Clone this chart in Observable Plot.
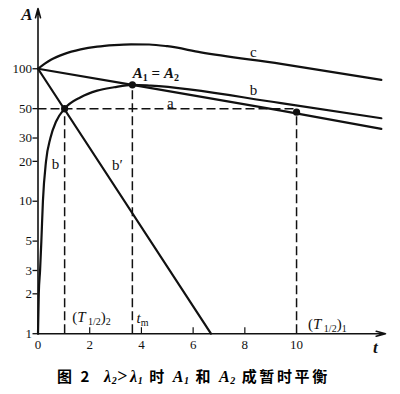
<!DOCTYPE html>
<html>
<head>
<meta charset="utf-8">
<script src="https://cdn.jsdelivr.net/npm/d3@7"></script>
<script src="https://cdn.jsdelivr.net/npm/@observablehq/plot@0.6"></script>
<style>
  html, body { margin: 0; padding: 0; background: #fff; }
  #chart svg { display: block; }
  #chart svg text { font-family: "Liberation Serif", serif; }
  #caption {
    height: 32px; line-height: 28px; margin: 0; padding-left: 57px;
    font-family: "Noto Sans CJK SC", sans-serif; font-weight: 700; font-size: 15px; color: #000;
    white-space: nowrap; letter-spacing: 2.6px;
  }
  #caption .m { font-family: "Liberation Serif", serif; font-style: italic; font-weight: 700; font-size: 16px; letter-spacing: 0.5px; }
  #caption sub { font-size: 10px; vertical-align: -2px; }
</style>
</head>
<body>
<div id="chart"></div>
<div id="caption">图 2 &nbsp;<span class="m">λ<sub>2</sub></span><span style="font-family:'Liberation Serif';font-size:18px">&gt;</span><span class="m">λ<sub>1</sub></span> 时 <span class="m">A<sub>1</sub></span> 和 <span class="m">A<sub>2</sub></span> 成暂时平衡</div>
<script>
// ---- data ----
// parent activity a (straight on log scale)
const aT = [0, 3.65, 9.4, 13.28];
const aV = [100, 75.6, 48.3, 35.2];
// daughter activity b
const bT = [0.0, 0.03, 0.08, 0.13, 0.19, 0.31, 0.48, 0.70, 1.03, 1.65, 2.29, 2.94, 3.65, 4.36, 9.4, 13.28];
const bV = [1, 2, 3, 5, 10, 20, 30, 40, 50, 61, 68.4, 72.5, 75.6, 74.6, 55, 42.3];
// daughter alone b'
const bpT = [0, 6.69];
const bpV = [100, 1];
// total c = a + b
const cT = [0, 0.25, 0.5, 1.0, 1.65, 2.29, 2.94, 3.6, 4.3, 5.0, 6.3, 9.4, 13.28];
const cV = [100, 109, 117, 129, 140, 147, 151, 153, 152.5, 148, 133, 109, 82.5];
// marked points: (T1/2)2, tm (A1 = A2), (T1/2)1
const markT = [1.03, 3.65, 10];
const markV = [50, 75.6, 47];
// ticks
const xTicks = [0, 2, 4, 6, 8, 10];
const yTicks = [1, 2, 3, 5, 10, 20, 30, 50, 100];

const toRows = (T, V) => T.map((t, i) => ({t, v: V[i]}));
const A = toRows(aT, aV), B = toRows(bT, bV), BP = toRows(bpT, bpV), C = toRows(cT, cV);
const M = toRows(markT, markV);

const ink = "#111";
const dash = "9,4";
const serif = "Liberation Serif";
const plot = Plot.plot({
  width: 400, height: 362,
  marginLeft: 37.5, marginRight: 15, marginTop: 8, marginBottom: 28.8,
  x: {domain: [0, 13.44]},
  y: {type: "log", domain: [1, 285]},
  style: {fontFamily: serif, fontSize: "13px", background: "white", color: ink},
  marks: [
    Plot.axisY({ticks: yTicks, tickSize: 5, tickPadding: 1, tickFormat: d => String(d), label: null, fontSize: 13, stroke: ink, strokeWidth: 1.3}),
    Plot.axisX({ticks: xTicks, tickSize: 0, tickPadding: 6, tickFormat: d => String(d), label: null, fontSize: 13}),
    Plot.ruleX(xTicks.filter(d => d > 0 && d < 10), {y1: 1, y2: 1.11, stroke: ink, strokeWidth: 1.2}),
    // dashed guides
    Plot.ruleY([50], {x1: 0, x2: 10, stroke: ink, strokeWidth: 1.5, strokeDasharray: dash}),
    Plot.ruleX(M, {x: "t", y1: 1, y2: "v", stroke: ink, strokeWidth: 1.5, strokeDasharray: dash}),
    // axes with arrows
    Plot.arrow([0], {x1: 0, y1: 1, x2: 0, y2: 285, stroke: ink, strokeWidth: 1.6, headLength: 9, headAngle: 30}),
    Plot.arrow([0], {x1: 0, y1: 1, x2: 13.44, y2: 1, stroke: ink, strokeWidth: 1.6, headLength: 9, headAngle: 30}),
    // curves
    Plot.line(C, {x: "t", y: "v", curve: "monotone-x", stroke: ink, strokeWidth: 2.2}),
    Plot.line(A, {x: "t", y: "v", stroke: ink, strokeWidth: 2.2}),
    Plot.line(B, {x: "t", y: "v", curve: "monotone-x", stroke: ink, strokeWidth: 2.2}),
    Plot.line(BP, {x: "t", y: "v", stroke: ink, strokeWidth: 2.2}),
    Plot.dot(M, {x: "t", y: "v", r: 3.6, fill: ink, stroke: "none"}),
    // labels
    Plot.text(["c"], {x: 8.33, y: 133, fontSize: 15, fill: ink}),
    Plot.text(["b"], {x: 8.33, y: 68.5, fontSize: 15, fill: ink}),
    Plot.text(["a"], {x: 5.12, y: 54.6, fontSize: 15, fill: ink}),
    Plot.text(["b"], {x: 0.68, y: 19.2, fontSize: 15, fill: ink}),
    Plot.text(["b\u2032"], {x: 3.07, y: 18.6, fontSize: 15, fill: ink}),
    Plot.text(["A1 = A2"], {x: 4.56, y: 92.5, fontSize: 15, fontWeight: "bold", fill: ink}),
    Plot.text(["(T1/2)2"], {x: 2.07, y: 1.33, fontSize: 15, fill: ink}),
    Plot.text(["tm"], {x: 4.04, y: 1.32, fontSize: 15, fill: ink}),
    Plot.text(["(T1/2)1"], {x: 11.19, y: 1.19, fontSize: 15, fill: ink}),
    Plot.text(["A"], {x: 0, dx: -11, y: 256, fontSize: 17, fontWeight: "bold", fontStyle: "italic", fill: ink}),
    Plot.text(["t"], {x: 13.05, y: 0.79, fontSize: 17, fontWeight: "bold", fontStyle: "italic", fill: ink})
  ]
});

// rich text (subscripts) as real SVG text
const rich = {
  "A1 = A2": '<tspan font-style="italic">A</tspan><tspan font-size="10" dy="3">1</tspan><tspan dy="-3"> = </tspan><tspan font-style="italic">A</tspan><tspan font-size="10" dy="3">2</tspan>',
  "(T1/2)2": '<tspan>(</tspan><tspan font-style="italic">T</tspan><tspan font-size="10" dy="3"> 1/2</tspan><tspan dy="-3">)</tspan><tspan font-size="10" dy="3">2</tspan>',
  "(T1/2)1": '<tspan>(</tspan><tspan font-style="italic">T</tspan><tspan font-size="10" dy="3"> 1/2</tspan><tspan dy="-3">)</tspan><tspan font-size="10" dy="3">1</tspan>',
  "tm": '<tspan font-style="italic">t</tspan><tspan font-size="10" dy="3">m</tspan>'
};
d3.select(plot).selectAll("text").each(function() {
  const s = this.textContent;
  if (rich[s]) this.innerHTML = rich[s];
});

document.getElementById("chart").appendChild(plot);
</script>
</body>
</html>
